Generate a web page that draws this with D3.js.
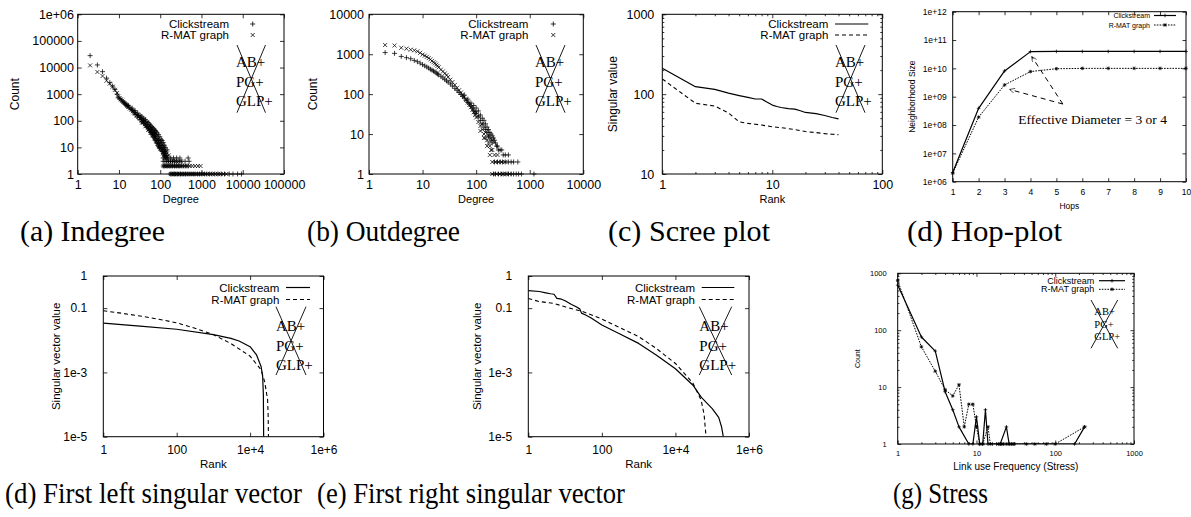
<!DOCTYPE html>
<html lang="en">
<head>
<meta charset="UTF-8">
<title>Clickstream vs R-MAT graph</title>
<style>
  body { margin: 0; background: #fff; }
</style>
</head>
<body>
<div id="chart"></div>
<script src="https://d3js.org/d3.v7.min.js"></script>
<script>
const WIDTH = 1191;
const HEIGHT = 517;
const SANS = "Liberation Sans, Arial, sans-serif";
const SERIF = "Liberation Serif, Times New Roman, serif";

// ---------- data ----------
const seriesNames = ["Clickstream", "R-MAT graph"];

// (a) indegree: [degree, count]
const indegClick = [
  [2,28000],[3,12500],[4,7000],[5,4000],[6,2700],[7,2000],[8,1500],[9,1000],[9.6,770],[10.4,680],[11.2,610],
  [12,550],[12.8,500],[13.6,460],[14.4,420],[15.2,390],[16,360],[16.8,335],[18.4,300],[20,265],[21.6,240],[23.1,215],
  [24.6,200],[27,175],[29.3,155],[32.4,135],[35.4,118],[38.4,105],[39.8,100],[43.6,85],[47.4,72],[51.1,62],[54.8,54],
  [58.5,47],[62.2,42],[65.9,37],[69.6,33],[73.2,30],[76.6,27],[84,22],[91,18],[98,15],[105,12],[112,10],[119,8],
  [126,7],[133,6],[140,5],[147,4],
  [16.8,380],[20.8,300],[24.6,240],[28.5,195],[32.4,160],[36.2,140],[39.8,125],[43.6,110],[47.4,95],[51.1,85],
  [54.8,75],[58.5,68],[62.2,60],[65.9,55],[69.6,50],[73.2,45],[76.6,42],[80.5,38],[84,35],[91,30],[98,25],[105,20],
  [112,18],[119,15],[126,12],[133,10],[147,8],
  [24.6,170],[28.5,135],[32.4,110],[36.2,90],[39.8,80],[43.6,68],[47.4,58],[51.1,50],[54.8,42],[58.5,36],[62.2,31],
  [65.9,27],[69.6,24],[73.2,21],[76.6,18],[80.5,16],[84,14],[88,12],[91,11],[95,10],[98,9],[105,8],[112,7],[119,6],
  [126,5],[133,5],
  [118,4],[135,4],[155,4],[180,4],[210,4],[250,4],[300,4],[475,4],
  [118,3],[130,3],[145,3],[160,3],[178,3],[198,3],[222,3],[250,3],[285,3],[330,3],[400,3],[500,3],
  [118,2],[128,2],[140,2],[152,2],[166,2],[182,2],[200,2],[222,2],[245,2],[272,2],[300,2],[335,2],[375,2],[420,2],[470,2],
  [175,1],[190,1],[205,1],[222,1],[240,1],[260,1],[285,1],[310,1],[340,1],[375,1],[410,1],[450,1],[500,1],[560,1],
  [630,1],[700,1],[800,1],[900,1],[1020,1],[1180,1],[1350,1],[1550,1],[1800,1],[2100,1],[2500,1],[3000,1],[3600,1],
  [4700,1],[5800,1],[7500,1],[9300,1]
];
const indegRmat = [
  [2,12000],[3,6800],[4,4800],[5,3200],[6,2500],[7,1900],[8,1450],[9,1100],[9.6,820],[10.4,720],[11.2,640],[12,570],
  [12.8,510],[13.6,465],[14.4,425],[15.2,390],[16,360],[16.8,330],[18.4,290],[20,255],[21.6,228],[23.1,205],[24.6,185],
  [27,160],[29.3,140],[32.4,120],[35.4,104],[38.4,92],[39.8,86],[43.6,74],[47.4,64],[51.1,56],[54.8,49],[58.5,43],
  [62.2,38],[65.9,34],[69.6,30],[73.2,27],[76.6,24],[84,20],[91,16],[98,13],[105,11],[112,9],[119,7],[126,6],[133,5],
  [32.4,150],[39.8,110],[47.4,85],[54.8,65],[62.2,52],[69.6,42],[76.6,35],[84,28],[91,22],[98,19],[105,16],[112,13],
  [119,11],[126,9],[133,8],[140,7],[147,6],[161,5],[36.2,85],[43.6,62],[51.1,45],[58.5,35],[65.9,28],[73.2,22],
  [80.5,17],[88,14],[95,11],[102,9],[109,8],[116,6],[122,5],[130,4],[140,4],
  [150,3],[168,3],[190,3],[215,3],[245,3],[280,3],[320,3],
  [120,2],[132,2],[146,2],[160,2],[176,2],[195,2],[215,2],[240,2],[268,2],[300,2],[340,2],[390,2],[450,2],[520,2],
  [600,2],[700,2],[820,2],[950,2],
  [180,1],[195,1],[215,1],[235,1],[255,1],[280,1],[305,1],[335,1],[370,1],[410,1],[455,1],[505,1],[560,1],[620,1],
  [690,1],[770,1],[860,1],[960,1],[1080,1],[1220,1],[1400,1],[1600,1],[1850,1],[2150,1],[2500,1],[2900,1],[3400,1],[4000,1]
];

// (b) outdegree: [degree, count]
const outdegClick = [
  [2,1100],[3,1050],[4,880],[5,820],[6,770],[7,700],[8,650],[9,600],[10,550],[11,510],[12,480],[13,450],[14,420],
  [15,400],[16,380],[17,360],[18,340],[19,320],[20,305],[22,280],[24,255],[26,235],[28,215],[30,200],[33,180],
  [36,160],[40,140],[44,125],[48,110],[52,98],[56,88],[60,80],[65,70],[70,62],[75,56],[80,50],[85,45],[90,40],
  [95,36],[100,33],[110,27],[120,22],[130,18],[140,15],[150,13],[160,11],[170,9],[180,8],[190,7],[200,6],
  [60,95],[70,75],[80,60],[90,52],[100,45],[110,38],[120,30],[130,25],[140,22],[150,18],[160,15],[170,13],[180,11],
  [190,10],[200,9],[210,8],[220,7],[230,6],[240,5],[250,5],[260,4],[280,4],[300,4],[320,3],[350,3],[400,3],
  [220,2],[250,2],[280,2],[310,2],[350,2],[400,2],[450,2],[500,2],[600,2],
  [210,1],[230,1],[260,1],[290,1],[320,1],[360,1],[400,1],[450,1],[500,1],[560,1],[620,1],[700,1],[1200,1]
];
const outdegRmat = [
  [2,1700],[3,1650],[4,1450],[5,1380],[6,1300],[7,1250],[8,1180],[9,1080],[10,980],[11,920],[12,860],[13,800],
  [14,740],[15,680],[16,630],[17,590],[18,550],[19,510],[20,470],[22,410],[24,370],[26,330],[28,300],[30,270],
  [33,230],[36,200],[40,170],[44,145],[48,125],[52,110],[56,97],[60,85],[65,72],[70,62],[75,54],[80,47],[85,40],
  [90,35],[95,30],[100,26],[110,20],[120,16],[130,13],[140,10],[150,8],[160,7],[170,6],[180,5],[190,4],[200,4],
  [100,35],[110,28],[120,12],[130,18],[140,8],[150,11],[160,5],[170,9],[180,3],[200,7],[220,3],[250,3],
  [200,2],[230,2],[260,2],[300,2],[350,2],
  [200,1],[240,1],[280,1],[320,1],[370,1],[420,1]
];

// (c) scree plot
const screeRank = [1,2,3,4,5,6,7,8,9,10,11,12,14,16,18,20,25,30,35,40];
const screeClick = [211,124,115,103,96,91,87,87,79,73,70,68,66,65,62,59,57,54,51,49];
const screeRmat = [155,77,71,58,45,43,42,41,40,39,38.5,38,37,36,35,34,33,32,31.5,31];

// (d) hop-plot
const hops = [1,2,3,4,5,6,7,8,9,10];
const hopClick = [2.1e6,3.9e8,8.1e9,3.9e10,3.95e10,3.95e10,3.95e10,3.95e10,3.95e10,3.95e10];
const hopRmat = [2.0e6,1.9e8,2.6e9,7.7e9,9.7e9,1.0e10,1.0e10,1.0e10,1.0e10,1.0e10];
const hopNote = "Effective Diameter = 3 or 4";
const hopArrowFrom = [5.25, 5.5e8];
const hopArrowTo = [[4.05, 2.6e10], [3.2, 1.8e9]];
const hopNoteAt = [3.53, 1.1e8];

// (e) first left singular vector: [rank, value]
const leftClick = [[1,0.034],[10,0.0275],[100,0.022],[1000,0.015],[3000,0.0115],[5000,0.0095],[10000,0.0063],
  [15000,0.0035],[20000,0.0015],[22000,0.00074],[23000,0.0002],[23400,1e-5]];
const leftRmat = [[1,0.083],[3,0.07],[10,0.057],[30,0.046],[100,0.035],[300,0.024],[1000,0.015],[3000,0.0079],
  [10000,0.0032],[20000,0.0012],[25000,0.00051],[30000,0.00014],[31000,0.00005],[31600,1e-5]];

// (f) first right singular vector
const rightClick = [[1,0.35],[2,0.33],[3,0.3],[4,0.28],[5,0.27],[6,0.2],[8,0.19],[10,0.17],[15,0.13],[20,0.11],
  [25,0.095],[28,0.07],[35,0.062],[50,0.05],[100,0.03],[300,0.016],[1000,0.008],[3000,0.0035],[10000,0.0013],
  [30000,0.0004],[50000,0.00017],[100000,0.000075],[150000,0.00004],[180000,0.00002],[200000,1e-5]];
const rightRmat = [[1,0.2],[2,0.16],[5,0.14],[10,0.11],[30,0.078],[100,0.046],[300,0.025],[1000,0.013],
  [3000,0.0056],[10000,0.0019],[30000,0.00046],[50000,0.000138],[60000,0.00005],[68000,1e-5]];

// (g) stress: [link use frequency, count]
const stressClick = [[1,620],[2,76],[3,43],[4,8.3],[5,4],[6,2],[8,1],[9,1],[10,3],[11,1],[12,1],[13,4],[14,1],
  [16,1],[18,1],[20,1],[24,2],[26,1],[28,1],[30,1],[176,1],[236,2]];
const stressRmat = [[1,750],[2,51],[3,19],[4,9],[5,7],[6,11],[7,2],[8,5],[9,5],[10,2],[11,1],[12,1],[14,2],[15,1],
  [19,1],[20,1],[21,1],[22,1],[24,1],[26,1],[28,1],[30,1],[43,1],[55,1],[77,1],[100,1],[236,2]];

// tick labels
const decTicks6 = [1,10,100,1000,10000,100000,1e6];
const decLabels6 = ["1","10","100","1000","10000","100000","1e+06"];
const hopYTicks = [1e6,1e7,1e8,1e9,1e10,1e11,1e12];
const hopYLabels = ["1e+06","1e+07","1e+08","1e+09","1e+10","1e+11","1e+12"];
const svXTicks = [1,100,1e4,1e6];
const svXLabels = ["1","100","1e+4","1e+6"];
const svYTicks = [1e-5,1e-3,0.1,1];
const svYLabels = ["1e-5","1e-3","0.1","1"];
const crossedModels = ["AB+", "PG+", "GLP+"];
// caption, centre x, baseline y, width
const captions = [
  ["(a) Indegree", 92.5, 241, 145], ["(b) Outdegree", 383.5, 241, 153],
  ["(c) Scree plot", 689, 241, 162], ["(d) Hop-plot", 984.5, 241, 155],
  ["(d) First left singular vector", 153.5, 503, 297], ["(e) First right singular vector", 471, 503, 308],
  ["(g) Stress", 940.5, 503, 95]
];

// ---------- drawing ----------
const svg = d3.select("#chart").append("svg")
  .attr("width", WIDTH).attr("height", HEIGHT)
  .style("background", "#fff");

const SYM = {
  plus: s => `M${-s},0H${s}M0,${-s}V${s}`,
  cross: s => `M${-s},${-s}L${s},${s}M${-s},${s}L${s},${-s}`,
  star: s => `M${-s},0H${s}M0,${-s}V${s}M${-s*0.75},${-s*0.75}L${s*0.75},${s*0.75}M${-s*0.75},${s*0.75}L${s*0.75},${-s*0.75}`
};

function minorLog(domain) {
  const out = [];
  const lo = Math.floor(Math.log10(domain[0]));
  const hi = Math.ceil(Math.log10(domain[1]));
  for (let e = lo; e < hi; e++) {
    for (let k = 2; k <= 9; k++) {
      const v = k * Math.pow(10, e);
      if (v > domain[0] && v < domain[1]) out.push(v);
    }
  }
  return out;
}

let clipCount = 0;

function makePanel(c) {
  const g = svg.append("g");
  const x = (c.xLinear ? d3.scaleLinear() : d3.scaleLog()).domain(c.xDomain).range([c.left, c.right]);
  const y = d3.scaleLog().domain(c.yDomain).range([c.bottom, c.top]);

  const tidy = sel => {
    sel.select(".domain").remove();
    sel.attr("font-family", SANS).attr("font-size", c.font);
    sel.selectAll("line").attr("stroke", "#000").attr("stroke-width", 0.8);
    sel.selectAll("text").attr("fill", "#000");
  };
  const blank = () => "";

  g.append("g").attr("transform", `translate(0,${c.bottom})`)
    .call(d3.axisBottom(x).tickValues(c.xTicks).tickFormat((d, i) => c.xLabels[i])
      .tickSizeInner(-c.tick).tickSizeOuter(0).tickPadding(c.xPad))
    .call(tidy);
  g.append("g").attr("transform", `translate(0,${c.top})`)
    .call(d3.axisTop(x).tickValues(c.xTicks).tickFormat(blank).tickSizeInner(-c.tick).tickSizeOuter(0))
    .call(tidy);
  g.append("g").attr("transform", `translate(${c.left},0)`)
    .call(d3.axisLeft(y).tickValues(c.yTicks).tickFormat((d, i) => c.yLabels[i])
      .tickSizeInner(-c.tick).tickSizeOuter(0).tickPadding(c.yPad))
    .call(tidy);
  g.append("g").attr("transform", `translate(${c.right},0)`)
    .call(d3.axisRight(y).tickValues(c.yTicks).tickFormat(blank).tickSizeInner(-c.tick).tickSizeOuter(0))
    .call(tidy);

  if (c.minor) {
    const mx = minorLog(c.xDomain), my = minorLog(c.yDomain);
    const ms = c.tick / 2;
    g.append("g").attr("transform", `translate(0,${c.bottom})`)
      .call(d3.axisBottom(x).tickValues(mx).tickFormat(blank).tickSizeInner(-ms).tickSizeOuter(0)).call(tidy);
    g.append("g").attr("transform", `translate(0,${c.top})`)
      .call(d3.axisTop(x).tickValues(mx).tickFormat(blank).tickSizeInner(-ms).tickSizeOuter(0)).call(tidy);
    g.append("g").attr("transform", `translate(${c.left},0)`)
      .call(d3.axisLeft(y).tickValues(my).tickFormat(blank).tickSizeInner(-ms).tickSizeOuter(0)).call(tidy);
    g.append("g").attr("transform", `translate(${c.right},0)`)
      .call(d3.axisRight(y).tickValues(my).tickFormat(blank).tickSizeInner(-ms).tickSizeOuter(0)).call(tidy);
  }

  g.append("rect")
    .attr("x", c.left).attr("y", c.top)
    .attr("width", c.right - c.left).attr("height", c.bottom - c.top)
    .attr("fill", "none").attr("stroke", "#000").attr("stroke-width", 1);

  // axis titles
  g.append("text")
    .attr("x", (c.left + c.right) / 2).attr("y", c.xTitleY)
    .attr("text-anchor", "middle").attr("dominant-baseline", "central")
    .attr("font-family", SANS).attr("font-size", c.titleFont || c.font)
    .text(c.xTitle);
  g.append("text")
    .attr("transform", `translate(${c.yTitleX},${(c.top + c.bottom) / 2}) rotate(-90)`)
    .attr("text-anchor", "middle").attr("dominant-baseline", "central")
    .attr("font-family", SANS).attr("font-size", c.yTitleFont || c.titleFont || c.font)
    .text(c.yTitle);

  // clip for lines
  const id = "clip" + (clipCount++);
  svg.append("defs").append("clipPath").attr("id", id)
    .append("rect").attr("x", c.left).attr("y", c.top)
    .attr("width", c.right - c.left).attr("height", c.bottom - c.top);

  // crossed-out model names
  if (c.cross) {
    const k = c.cross;
    const cg = g.append("g");
    cg.selectAll("text").data(crossedModels).join("text")
      .attr("x", k.x).attr("y", (d, i) => k.y + i * k.dy)
      .attr("dominant-baseline", "central")
      .attr("font-family", SERIF).attr("font-size", k.font)
      .text(d => d);
    cg.append("line").attr("x1", k.x1).attr("y1", k.y1).attr("x2", k.x2).attr("y2", k.y2)
      .attr("stroke", "#000").attr("stroke-width", 0.9);
    cg.append("line").attr("x1", k.x2).attr("y1", k.y1).attr("x2", k.x1).attr("y2", k.y2)
      .attr("stroke", "#000").attr("stroke-width", 0.9);
  }

  return { g, x, y, clip: `url(#${id})`, c };
}

function drawLegend(p, items) {
  const L = p.c.legend;
  items.forEach((it, i) => {
    const yy = L.y[i];
    p.g.append("text").attr("x", L.x).attr("y", yy)
      .attr("text-anchor", "end").attr("dominant-baseline", "central")
      .attr("font-family", SANS).attr("font-size", L.font)
      .text(seriesNames[i]);
    if (it.line) {
      p.g.append("line").attr("x1", L.s1).attr("x2", L.s2).attr("y1", yy).attr("y2", yy)
        .attr("stroke", "#000").attr("stroke-width", it.width || 1.2)
        .attr("stroke-dasharray", it.dash || null);
    }
    if (it.symbol) {
      const mx = it.line ? (L.s1 + L.s2) / 2 : L.s1;
      p.g.append("path").attr("d", SYM[it.symbol](it.size))
        .attr("transform", `translate(${mx},${yy})`)
        .attr("fill", "none").attr("stroke", "#000").attr("stroke-width", 0.8);
    }
  });
}

function drawPoints(p, data, symbol, size) {
  p.g.append("g").selectAll("path").data(data).join("path")
    .attr("d", SYM[symbol](size))
    .attr("transform", d => `translate(${p.x(d[0])},${p.y(d[1])})`)
    .attr("fill", "none").attr("stroke", "#000").attr("stroke-width", 0.75);
}

function drawLine(p, data, dash, width) {
  const line = d3.line().x(d => p.x(d[0])).y(d => p.y(d[1]));
  p.g.append("path").datum(data)
    .attr("clip-path", p.clip)
    .attr("d", line)
    .attr("fill", "none").attr("stroke", "#000")
    .attr("stroke-width", width || 1.2)
    .attr("stroke-dasharray", dash || null)
    .attr("stroke-linejoin", "round");
}

// (a) Indegree
const pA = makePanel({
  left: 77.7, right: 284, top: 14.3, bottom: 174,
  xDomain: [1, 1e5], yDomain: [1, 1e6],
  xTicks: decTicks6.slice(0, 6), xLabels: decLabels6.slice(0, 6),
  yTicks: decTicks6, yLabels: decLabels6,
  font: 12.5, tick: 4, xPad: 6, yPad: 3.7,
  xTitle: "Degree", xTitleY: 198.5, titleFont: 11, yTitleFont: 12,
  yTitle: "Count", yTitleX: 15,
  legend: { x: 229, y: [24, 35], font: 11.5, s1: 252.7 },
  cross: { x: 236, y: 62, dy: 19.5, font: 15, x1: 237, x2: 265.5, y1: 45, y2: 112.7 }
});
drawPoints(pA, indegRmat, "cross", 2);
drawPoints(pA, indegClick, "plus", 2.5);
drawLegend(pA, [{ symbol: "plus", size: 2.5 }, { symbol: "cross", size: 2 }]);

// (b) Outdegree
const pB = makePanel({
  left: 369, right: 583.3, top: 14.3, bottom: 174,
  xDomain: [1, 1e4], yDomain: [1, 1e4],
  xTicks: decTicks6.slice(0, 5), xLabels: decLabels6.slice(0, 5),
  yTicks: decTicks6.slice(0, 5), yLabels: decLabels6.slice(0, 5),
  font: 12.5, tick: 4, xPad: 6, yPad: 5,
  xTitle: "Degree", xTitleY: 198.5, titleFont: 11, yTitleFont: 12,
  yTitle: "Count", yTitleX: 313.3,
  legend: { x: 528.3, y: [24, 35], font: 11.5, s1: 553.3 },
  cross: { x: 535, y: 62, dy: 19.5, font: 15, x1: 536, x2: 565, y1: 45, y2: 112.7 }
});
drawPoints(pB, outdegRmat, "cross", 2);
drawPoints(pB, outdegClick, "plus", 2.5);
drawLegend(pB, [{ symbol: "plus", size: 2.5 }, { symbol: "cross", size: 2 }]);

// (c) Scree plot
const pC = makePanel({
  left: 662.3, right: 882.3, top: 14.3, bottom: 174,
  xDomain: [1, 100], yDomain: [10, 1000],
  xTicks: [1, 10, 100], xLabels: ["1", "10", "100"],
  yTicks: [10, 100, 1000], yLabels: ["10", "100", "1000"],
  font: 12.5, tick: 4, xPad: 6, yPad: 8, minor: true,
  xTitle: "Rank", xTitleY: 198.5, titleFont: 11, yTitleFont: 12,
  yTitle: "Singular value", yTitleX: 613,
  legend: { x: 828.3, y: [24, 35], font: 11.5, s1: 835, s2: 868.3 },
  cross: { x: 835, y: 62, dy: 19.5, font: 15, x1: 836, x2: 865, y1: 45, y2: 112.7 }
});
drawLine(pC, screeRank.map((r, i) => [r, screeClick[i]]), null, 1.2);
drawLine(pC, screeRank.map((r, i) => [r, screeRmat[i]]), "4,3", 1.1);
drawLegend(pC, [{ line: true }, { line: true, dash: "4,3", width: 1.1 }]);

// (d) Hop-plot
const pD = makePanel({
  left: 952.7, right: 1186, top: 11.7, bottom: 181.7,
  xLinear: true, xDomain: [1, 10], yDomain: [1e6, 1e12],
  xTicks: hops, xLabels: hops.map(String),
  yTicks: hopYTicks, yLabels: hopYLabels,
  font: 8.5, tick: 3.5, xPad: 7.5, yPad: 6,
  xTitle: "Hops", xTitleY: 206, yTitle: "Neighborhood Size", yTitleX: 911.7,
  legend: { x: 1150, y: [15.5, 25], font: 7, s1: 1154, s2: 1176 }
});
drawLine(pD, hops.map((h, i) => [h, hopClick[i]]), null, 1.2);
drawLine(pD, hops.map((h, i) => [h, hopRmat[i]]), "1.6,1.2", 1);
drawPoints(pD, hops.map((h, i) => [h, hopClick[i]]), "plus", 1.8);
drawPoints(pD, hops.map((h, i) => [h, hopRmat[i]]), "star", 1.8);
drawLegend(pD, [{ line: true, symbol: "plus", size: 1.8 }, { line: true, dash: "1.6,1.2", width: 1, symbol: "star", size: 1.8 }]);

svg.append("defs").append("marker")
  .attr("id", "head").attr("viewBox", "0 0 10 10").attr("refX", 10).attr("refY", 5)
  .attr("markerWidth", 7).attr("markerHeight", 5).attr("orient", "auto").attr("markerUnits", "userSpaceOnUse")
  .append("path").attr("d", "M0,0L10,5L0,10").attr("fill", "none").attr("stroke", "#000").attr("stroke-width", 1.2);
hopArrowTo.forEach(t => {
  pD.g.append("line")
    .attr("x1", pD.x(hopArrowFrom[0])).attr("y1", pD.y(hopArrowFrom[1]))
    .attr("x2", pD.x(t[0])).attr("y2", pD.y(t[1]))
    .attr("stroke", "#000").attr("stroke-width", 1).attr("stroke-dasharray", "5,4")
    .attr("marker-end", "url(#head)");
});
pD.g.append("text")
  .attr("x", pD.x(hopNoteAt[0])).attr("y", pD.y(hopNoteAt[1]))
  .attr("font-family", SERIF).attr("font-size", 13.5)
  .text(hopNote);

// (e) First left singular vector
const pE = makePanel({
  left: 103.3, right: 323.5, top: 276, bottom: 436.7,
  xDomain: [1, 1e6], yDomain: [1e-5, 1],
  xTicks: svXTicks, xLabels: svXLabels, yTicks: svYTicks, yLabels: svYLabels,
  font: 12, tick: 4, xPad: 8.3, yPad: 16,
  xTitle: "Rank", xTitleY: 463.8, titleFont: 11.5,
  yTitle: "Singular vector value", yTitleX: 56,
  legend: { x: 279.3, y: [287.5, 299.5], font: 11.5, s1: 286, s2: 310 },
  cross: { x: 276, y: 326, dy: 19.5, font: 15, x1: 276, x2: 306, y1: 306.7, y2: 375 }
});
drawLine(pE, leftClick, null, 1.2);
drawLine(pE, leftRmat, "4,3", 1.1);
drawLegend(pE, [{ line: true }, { line: true, dash: "4,3", width: 1.1 }]);

// (f) First right singular vector
const pF = makePanel({
  left: 528.3, right: 749, top: 276, bottom: 436.7,
  xDomain: [1, 1e6], yDomain: [1e-5, 1],
  xTicks: svXTicks, xLabels: svXLabels, yTicks: svYTicks, yLabels: svYLabels,
  font: 12, tick: 4, xPad: 8.3, yPad: 16,
  xTitle: "Rank", xTitleY: 463.8, titleFont: 11.5,
  yTitle: "Singular vector value", yTitleX: 477.3,
  legend: { x: 695, y: [287.5, 299.5], font: 11.5, s1: 701.7, s2: 734.3 },
  cross: { x: 699.3, y: 326, dy: 19.5, font: 15, x1: 699.3, x2: 731.7, y1: 306.7, y2: 375 }
});
drawLine(pF, rightClick, null, 1.2);
drawLine(pF, rightRmat, "4,3", 1.1);
drawLegend(pF, [{ line: true }, { line: true, dash: "4,3", width: 1.1 }]);

// (g) Stress
const pG = makePanel({
  left: 897.7, right: 1134, top: 273.3, bottom: 444,
  xDomain: [1, 1000], yDomain: [1, 1000],
  xTicks: [1, 10, 100, 1000], xLabels: ["1", "10", "100", "1000"],
  yTicks: [1, 10, 100, 1000], yLabels: ["1", "10", "100", "1000"],
  font: 7.5, tick: 3.5, xPad: 6.3, yPad: 11, minor: true,
  xTitle: "Link use Frequency (Stress)", xTitleY: 466.7, titleFont: 10,
  yTitle: "Count", yTitleX: 857.3, yTitleFont: 7,
  legend: { x: 1094.3, y: [280.7, 289.3], font: 9, s1: 1099, s2: 1125 },
  cross: { x: 1094.3, y: 311.7, dy: 12.5, font: 10.5, x1: 1091, x2: 1117.7, y1: 300, y2: 348.3 }
});
drawLine(pG, stressClick, null, 1.2);
drawLine(pG, stressRmat, "1.6,1.2", 1);
drawPoints(pG, stressClick, "plus", 1.8);
drawPoints(pG, stressRmat, "star", 1.8);
drawLegend(pG, [{ line: true, symbol: "plus", size: 1.8 }, { line: true, dash: "1.6,1.2", width: 1, symbol: "star", size: 1.8 }]);

// captions
svg.append("g").selectAll("text").data(captions).join("text")
  .attr("x", d => d[1]).attr("y", d => d[2])
  .attr("text-anchor", "middle")
  .attr("font-family", SERIF).attr("font-size", 29)
  .attr("textLength", d => d[3]).attr("lengthAdjust", "spacingAndGlyphs")
  .attr("fill", "#000")
  .text(d => d[0]);
</script>
</body>
</html>
